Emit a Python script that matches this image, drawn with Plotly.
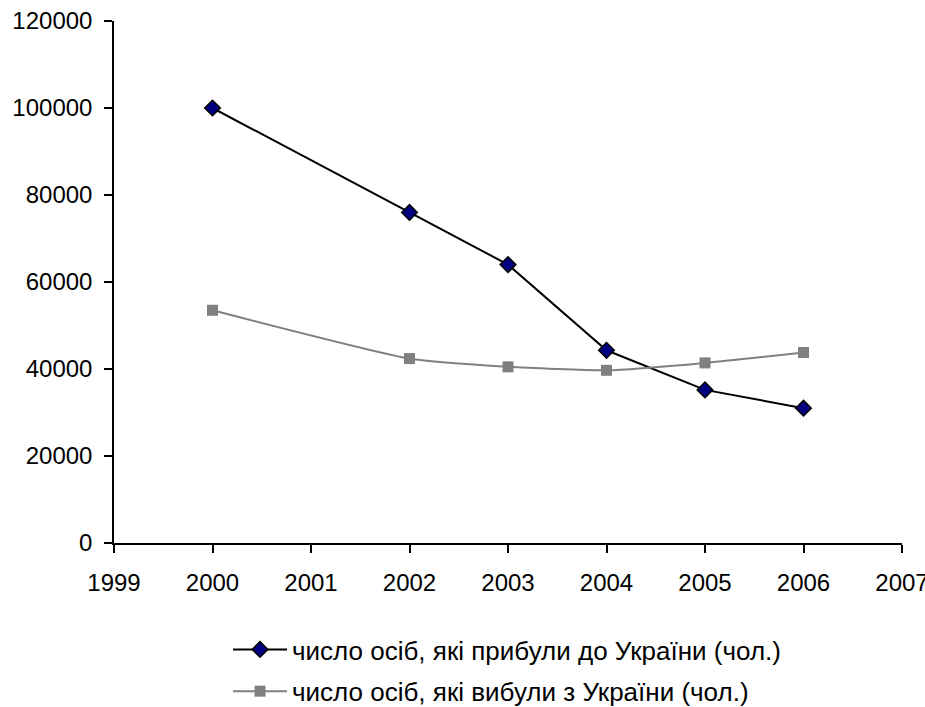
import plotly.graph_objects as go

years_arrived = [2000, 2002, 2003, 2004, 2005, 2006]
arrived = [100000, 76000, 64000, 44300, 35200, 31000]
years_left = [2000, 2002, 2003, 2004, 2005, 2006]
left_ = [53500, 42400, 40500, 39700, 41400, 43800]
name_arrived = "число осіб, які прибули до України (чол.)"
name_left = "число осіб, які вибули з України (чол.)"
x_ticks = list(range(1999, 2008))
y_ticks = [0, 20000, 40000, 60000, 80000, 100000, 120000]

fig = go.Figure()
fig.add_trace(go.Scatter(
    x=years_arrived, y=arrived, name=name_arrived, mode="lines+markers",
    legendgroup="a",
    line=dict(color="black", width=2),
    marker=dict(symbol="diamond", size=12, color="#000080", line=dict(color="black", width=1.5)),
))
fig.add_trace(go.Scatter(
    x=years_left, y=left_, name=name_left, mode="lines+markers",
    legendgroup="b",
    line=dict(color="#808080", width=2, shape="spline", smoothing=0.5),
    marker=dict(symbol="square", size=11, color="#808080"),
))

font = "Liberation Sans, Arial, sans-serif"
axis_common = dict(showgrid=False, zeroline=False, showline=True, linecolor="black", linewidth=1.5,
                   ticks="outside", ticklen=8, tickcolor="black", tickwidth=1.5,
                   automargin=False, ticklabeloverflow="allow",
                   tickfont=dict(family=font, size=24, color="black"))
fig.update_layout(
    width=925, height=707,
    margin=dict(l=114, r=23, t=21, b=164),
    paper_bgcolor="white", plot_bgcolor="white",
    font=dict(family=font, size=24, color="black"),
    showlegend=True,
    legend=dict(x=0.1447, xref="paper", y=0.1146, yref="container",
                xanchor="left", yanchor="top",
                orientation="v", itemwidth=54, tracegroupgap=5,
                font=dict(family=font, size=26, color="black")),
    xaxis=dict(range=[1999, 2007], tickvals=x_ticks, ticktext=[str(v) for v in x_ticks],
               ticklabelstandoff=9, **axis_common),
    yaxis=dict(range=[0, 120000], tickvals=y_ticks, ticktext=[str(v) for v in y_ticks],
               ticklabelstandoff=7, **axis_common),
)
fig.write_html(
    "out.html",
    config={"displayModeBar": False},
    post_script="document.body.style.margin='0';document.documentElement.style.overflow='hidden';",
)
